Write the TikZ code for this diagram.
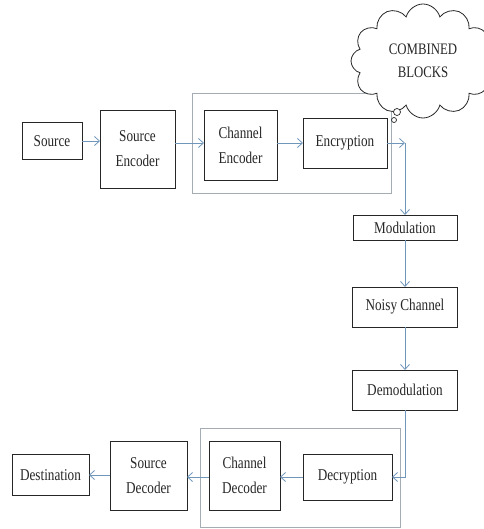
\documentclass[tikz,border=0pt]{standalone}
\usepackage{fontspec}
\usepackage{tikz}
\usetikzlibrary{arrows.meta,shapes.symbols}
\newfontfamily\diagfont[FakeStretch=0.8]{Liberation Serif}
\definecolor{flow-blue}{RGB}{112,150,186}
\definecolor{group-grey}{RGB}{165,172,180}
\tikzset{
    block-box/.style = {draw=black!85, line width=0.9pt, rectangle, inner sep=0pt, outer sep=0pt, align=center, text=black!85, font=\diagfont\fontsize{16.5}{25}\selectfont},
    group-box/.style = {draw=group-grey, line width=0.8pt, rectangle, inner sep=0pt, outer sep=0pt},
    flow-arrow/.style = {draw=flow-blue, line width=0.8pt, -{Straight Barb[length=5pt,width=9pt]}},
    thought-cloud/.style = {draw=black!85, fill=white, line width=0.8pt, cloud, cloud puffs=12, aspect=1.3, inner sep=2pt, align=center, text=black!85, font=\diagfont\fontsize{16}{23}\selectfont},
    thought-dot/.style = {draw=black!85, fill=white, line width=0.7pt, circle, inner sep=0pt},
}

\begin{document}
\begin{tikzpicture}[x=1pt, y=-1pt]
\useasboundingbox (0,0) rectangle (483,529);

% groups of combined blocks
\node [group-box, minimum width=199pt, minimum height=100pt] (tx-group) at (291.5,143) {};
\node [group-box, minimum width=200pt, minimum height=99pt] (rx-group) at (300,477.5) {};

% transmitter side
\node [block-box, minimum width=60pt, minimum height=37pt] (src) at (52,141) {Source};
\node [block-box, minimum width=75pt, minimum height=78pt] (src-enc) at (137.5,149) {Source\\Encoder};
\node [block-box, minimum width=73pt, minimum height=70pt] (ch-enc) at (240.5,145) {Channel\\Encoder};
\node [block-box, minimum width=84pt, minimum height=50pt] (encr) at (345,143) {Encryption};

% channel
\node [block-box, minimum width=104pt, minimum height=25pt] (modul) at (405,227.5) {Modulation};
\node [block-box, minimum width=105pt, minimum height=40pt] (noisy) at (405,307) {Noisy Channel};
\node [block-box, minimum width=105pt, minimum height=40pt] (demod) at (405,390) {Demodulation};

% receiver side
\node [block-box, minimum width=89pt, minimum height=46pt] (decr) at (347.5,477) {Decryption};
\node [block-box, minimum width=71pt, minimum height=69pt] (ch-dec) at (244.5,475.5) {Channel\\Decoder};
\node [block-box, minimum width=77pt, minimum height=69pt] (src-dec) at (148.5,475.5) {Source\\Decoder};
\node [block-box, minimum width=77pt, minimum height=41pt] (dest) at (50.5,475) {Destination};

% note
\node [thought-cloud, minimum width=144pt, minimum height=114pt] (note) at (423,61) {COMBINED\\BLOCKS};
\node [thought-dot, minimum size=7pt] (dot-a) at (397,112) {};
\node [thought-dot, minimum size=5pt] (dot-b) at (394,120) {};

% flow
\coordinate (enc-out) at (encr.east -| modul);
\draw [flow-arrow] (src.east) -- (src.east -| src-enc.west);
\draw [flow-arrow] (src-enc.east |- encr) -- (ch-enc.west |- encr);
\draw [flow-arrow] (ch-enc.east |- encr) -- (encr.west);
\draw [flow-arrow] (encr.east) -- (enc-out);
\draw [flow-arrow] (enc-out) -- (modul.north);
\draw [flow-arrow] (modul.south) -- (noisy.north);
\draw [flow-arrow] (noisy.south) -- (demod.north);
\draw [flow-arrow] (demod.south) |- (decr.east);
\draw [flow-arrow] (decr.west) -- (decr.west -| ch-dec.east);
\draw [flow-arrow] (ch-dec.west |- decr) -- (src-dec.east |- decr);
\draw [flow-arrow] (src-dec.west |- dest) -- (dest.east);
\end{tikzpicture}
\end{document}
